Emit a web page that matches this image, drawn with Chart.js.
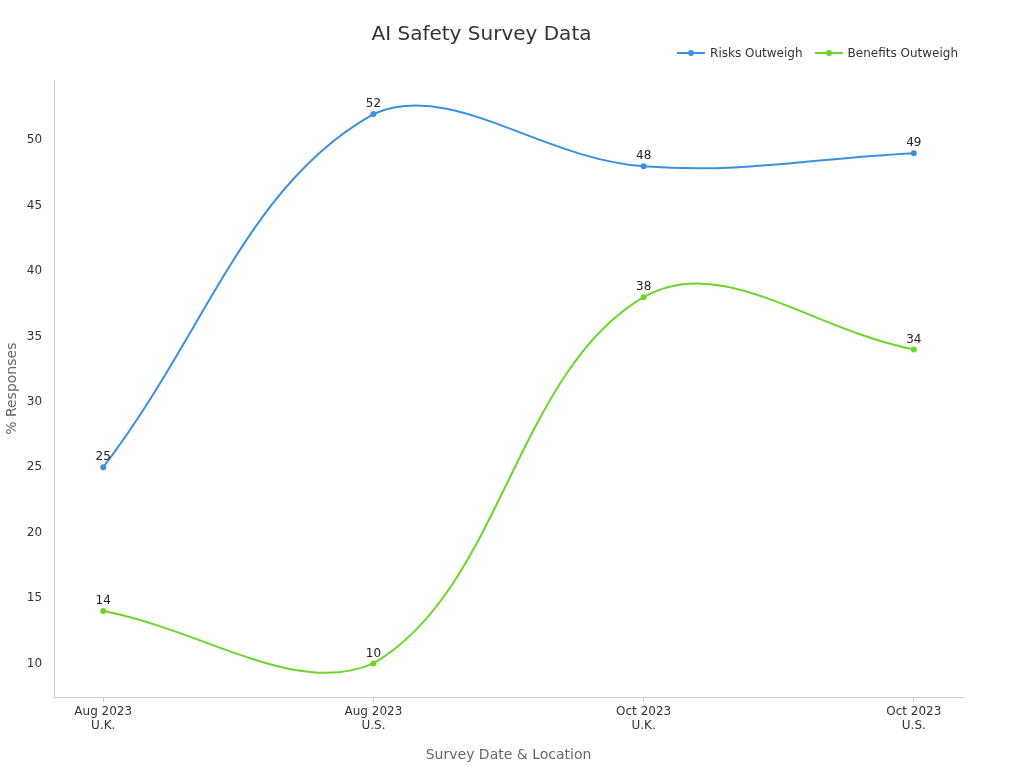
<!DOCTYPE html>
<html>
<head>
<meta charset="utf-8">
<script src="https://cdn.jsdelivr.net/npm/chart.js@4"></script>
<style>
  body { margin: 0; background: #fff; font-family: "DejaVu Sans", sans-serif; }
  #wrap { position: relative; width: 1024px; height: 768px; }
  #legend { position: absolute; top: 46px; right: 66px; font-size: 12px; color: #333; display: flex; gap: 12px; }
  .item { display: flex; align-items: center; gap: 5px; }
  .sym { position: relative; width: 28px; height: 10px; }
  .sym i { position: absolute; left: 0; right: 0; top: 4px; height: 2px; }
  .sym b { position: absolute; left: 11px; top: 2px; width: 6px; height: 6px; border-radius: 50%; }
</style>
</head>
<body>
<div id="wrap">
  <canvas id="c" width="1024" height="768"></canvas>
  <div id="legend"></div>
</div>
<script>
const categories = [['Aug 2023', 'U.K.'], ['Aug 2023', 'U.S.'], ['Oct 2023', 'U.K.'], ['Oct 2023', 'U.S.']];
const risksOutweigh = [25, 52, 48, 49];
const benefitsOutweigh = [14, 10, 38, 34];
const yTicks = [10, 15, 20, 25, 30, 35, 40, 45, 50];

const seriesInfo = [
  { label: 'Risks Outweigh', data: risksOutweigh, color: '#3b8fe0' },
  { label: 'Benefits Outweigh', data: benefitsOutweigh, color: '#6dd42c' }
];

const legend = document.getElementById('legend');
seriesInfo.forEach(s => {
  const item = document.createElement('div');
  item.className = 'item';
  item.innerHTML = `<span class="sym"><i style="background:${s.color}"></i><b style="background:${s.color}"></b></span>${s.label}`;
  legend.appendChild(item);
});

const valueLabels = {
  id: 'valueLabels',
  afterDatasetsDraw(chart) {
    const ctx = chart.ctx;
    ctx.save();
    ctx.font = '12px "DejaVu Sans"';
    ctx.fillStyle = '#222';
    ctx.textAlign = 'center';
    ctx.textBaseline = 'bottom';
    chart.data.datasets.forEach((ds, i) => {
      chart.getDatasetMeta(i).data.forEach((pt, j) => {
        ctx.fillText(ds.data[j].y, pt.x, pt.y - 4);
      });
    });
    ctx.restore();
  }
};

new Chart(document.getElementById('c'), {
  type: 'line',
  data: {
    datasets: seriesInfo.map(s => ({
      label: s.label,
      data: s.data.map((v, i) => ({ x: i, y: v })),
      borderColor: s.color,
      backgroundColor: s.color,
      borderWidth: 2,
      pointRadius: 2,
      tension: 0.38
    }))
  },
  options: {
    responsive: false,
    animation: false,
    layout: { padding: { top: 10, right: 61, left: 0, bottom: 0 } },
    plugins: {
      legend: { display: false },
      tooltip: { enabled: false },
      title: {
        display: true, text: 'AI Safety Survey Data', color: '#333',
        font: { size: 20, family: 'DejaVu Sans', weight: 'normal' },
        padding: { top: 13, bottom: 33 }
      }
    },
    scales: {
      x: {
        type: 'linear', min: -0.182, max: 3.182,
        afterBuildTicks: a => { a.ticks = [0, 1, 2, 3].map(v => ({ value: v })); },
        ticks: { callback: v => categories[v], color: '#333', font: { size: 12, family: 'DejaVu Sans' }, maxRotation: 0, padding: 2 },
        grid: { display: true, drawOnChartArea: false, drawTicks: true, tickLength: 5, color: '#ccc' },
        border: { color: '#ccc' },
        title: { display: true, text: 'Survey Date & Location', color: '#666', font: { size: 14, family: 'DejaVu Sans' }, padding: { top: 12 } }
      },
      y: {
        min: 7.4, max: 54.6,
        afterBuildTicks: a => { a.ticks = yTicks.map(v => ({ value: v })); },
        ticks: { color: '#333', font: { size: 12, family: 'DejaVu Sans' }, padding: 4 },
        grid: { display: false },
        border: { color: '#ccc' },
        title: { display: true, text: '% Responses', color: '#666', font: { size: 14, family: 'DejaVu Sans' }, padding: { bottom: 2 } }
      }
    }
  },
  plugins: [valueLabels]
});
</script>
</body>
</html>
